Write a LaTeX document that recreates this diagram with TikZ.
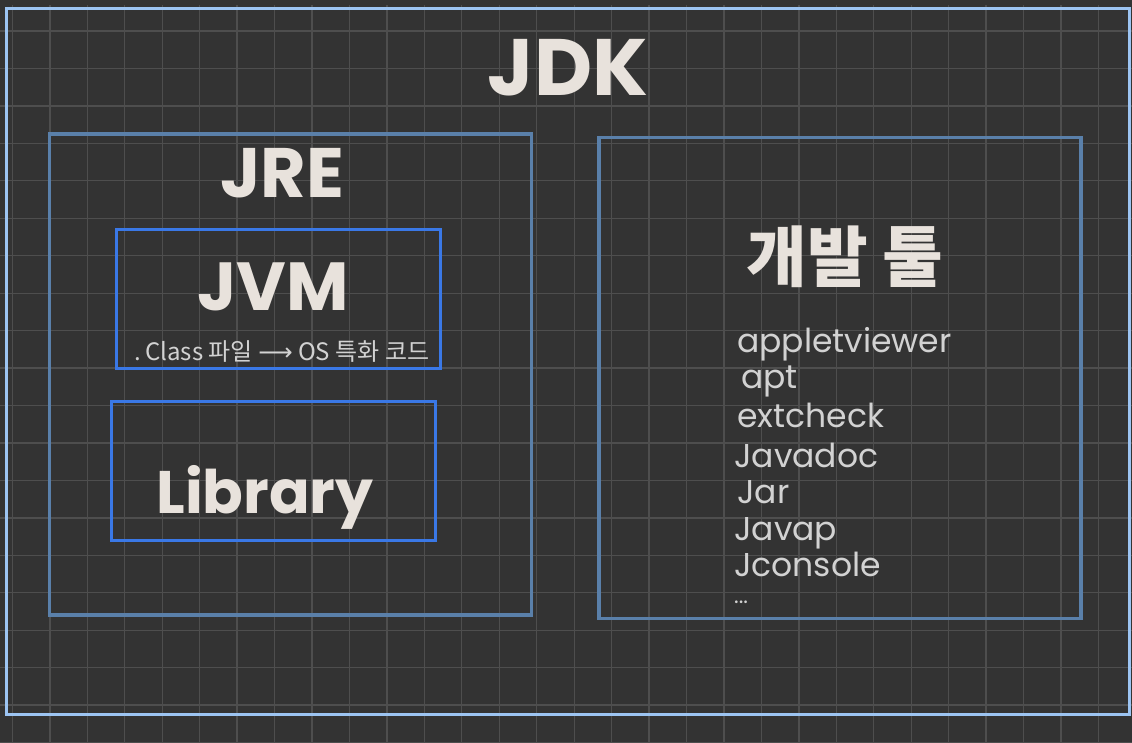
\documentclass[tikz,border=0pt]{standalone}
\usepackage{fontspec}
\setmainfont{Poppins}
\newfontfamily\kr{Noto Sans CJK KR}
\newfontfamily\sym{DejaVu Sans}
\definecolor{bgc}{HTML}{333333}
\definecolor{gridc}{HTML}{4E4E4E}
\definecolor{jdkc}{HTML}{9CC4F2}
\definecolor{jrec}{HTML}{5A80AA}
\definecolor{jvmc}{HTML}{3A78E6}
\definecolor{titlec}{HTML}{E8E2DC}
\definecolor{listc}{HTML}{D2D2D2}
\tikzset{
  box/.style={draw, inner sep=0pt, outer sep=0pt, minimum width=#1},
  boxjdk/.style={box=1123pt, draw=jdkc, line width=3.2pt, minimum height=706pt},
  boxjre/.style={box=482pt, draw=jrec, line width=3.2pt, minimum height=481pt},
  boxjvm/.style={box=324pt, draw=jvmc, line width=3.2pt, minimum height=139pt},
  title/.style={text=titlec, inner sep=0pt, font=\bfseries\fontsize{#1}{#1}\selectfont},
  item/.style={text=listc, inner sep=0pt, anchor=base west, font=\fontsize{33}{33}\selectfont},
}
\begin{document}
\begin{tikzpicture}[x=1pt,y=-1pt]
\fill[bgc] (0,0) rectangle (1132,742);
\useasboundingbox (0,0) rectangle (1132,742);
% grid
\foreach \k in {0,...,29} {
  \draw[gridc, line width=1.3pt] ({12.4+37.45*\k},5) -- ({12.4+37.45*\k},742);
}
\foreach \k in {0,...,19} {
  \draw[gridc, line width=1.3pt] (0,{31+37.45*\k}) -- (1132,{31+37.45*\k});
}
% boxes
\node[boxjdk] (jdk) at (568.3,361.8) {};
\node[boxjre] (jre) at (290.2,374.5) {};
\node[boxjre] (dev) at (840,378.3) {};
\node[boxjvm] (jvm) at (278.7,299.2) {};
\node[boxjvm] (lib) at (273.4,470.9) {};
% titles
\node[title=80] (jdkt) at (568,67.5) {JDK};
\node[title=70] (jret) at (282,173.5) {JRE};
\node[title=68] (jvmt) at (273,287) {JVM};
\node[text=listc, inner sep=0pt, font=\kr\fontsize{24}{24}\selectfont] (jvmd) at (282,352) {.\,Class 파일 {\sym ⟶} OS 특화 코드};
\node[title=60, anchor=base] (libt) at (265,513) {Library};
\node[title=66, font=\kr\bfseries\fontsize{66}{66}\selectfont] (devt) at (845,257) {개발 툴};
% list
\node[item] (i1) at (737,352) {appletviewer};
\node[item] (i2) at (741,388) {apt};
\node[item] (i3) at (737,427) {extcheck};
\node[item] (i4) at (734,467) {Javadoc};
\node[item] (i5) at (737,503) {Jar};
\node[item] (i6) at (734,540) {Javap};
\node[item] (i7) at (734,576) {Jconsole};
\node[item, font=\fontsize{22}{22}\selectfont] (i8) at (734,603) {...};
\end{tikzpicture}
\end{document}
